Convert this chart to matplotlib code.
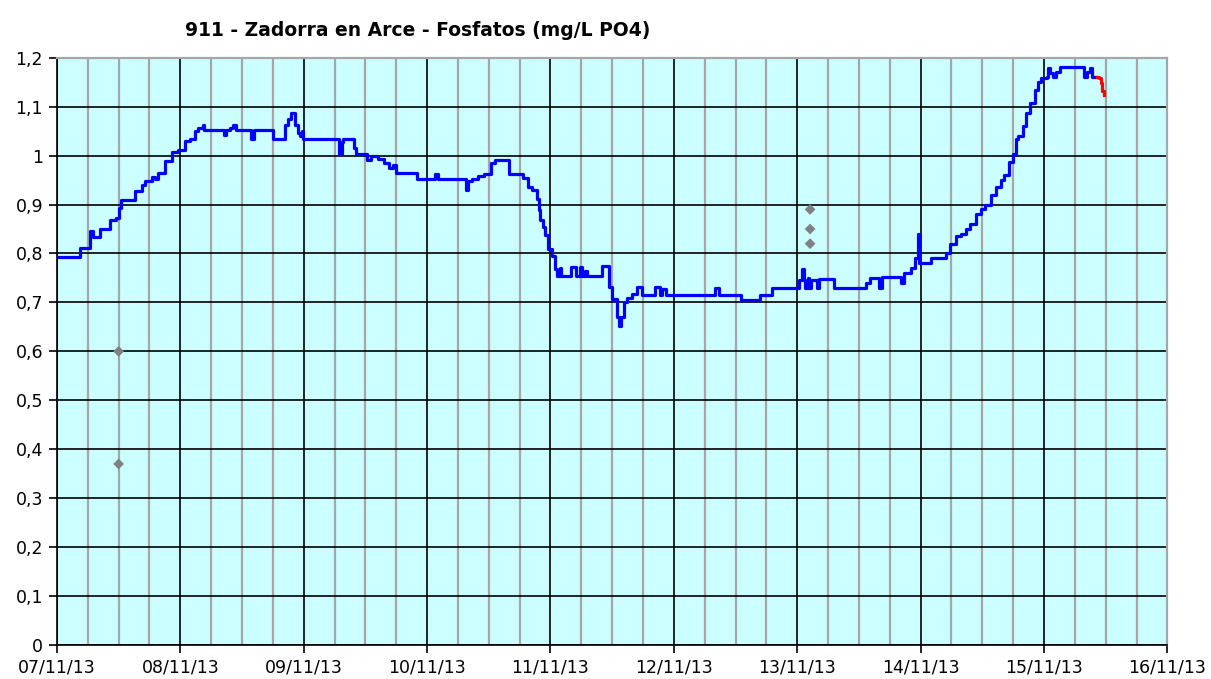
import matplotlib
matplotlib.use("Agg")
import matplotlib.pyplot as plt
import matplotlib.dates as mdates
import matplotlib.ticker as mticker
import pandas as pd

START = pd.Timestamp("2013-11-07")

# blue series: hours since 07/11/13 00:00, phosphate mg/L PO4
blue_hours = [
    0, 4.4, 6.4, 7.0, 8.4, 10.4, 11.4, 12.0, 12.5, 15.2, 16.6, 17.2, 18.4, 19.1,
    19.7, 21.0, 22.3, 23.6, 24.9, 25.8, 26.8, 27.4, 28.4, 28.7, 32.5, 32.9, 33.6,
    34.3, 34.9, 37.7, 38.4, 42.0, 44.3, 45.0, 45.5, 46.3, 46.8, 47.2, 47.6, 47.9,
    54.8, 55.4, 55.7, 57.7, 58.2, 60.3, 61.1, 62.4, 63.7, 64.5, 65.3, 66.0, 70.0,
    73.5, 74.2, 79.5, 80.0, 80.7, 82.0, 83.0, 84.5, 85.2, 88.0, 90.7, 91.7, 92.5,
    93.3, 93.7, 94.0, 94.6, 95.0, 95.6, 96.3, 96.9, 97.3, 97.8, 98.1, 99.9, 100.9,
    101.8, 102.1, 102.8, 103.1, 106.0, 107.3, 108.0, 109.0, 109.3, 109.8, 110.3,
    110.9, 111.9, 112.9, 113.8, 116.4, 117.4, 117.7, 118.4, 128.1, 128.8, 133.0,
    136.8, 139.1, 144.3, 144.9, 145.3, 145.6, 146.0, 146.3, 146.6, 147.9, 148.3,
    151.2, 157.4, 158.1, 160.0, 160.4, 164.1, 164.7, 166.1, 167.0, 167.4, 167.6,
    170.0, 172.9, 173.8, 174.8, 175.8, 176.8, 177.7, 178.7, 179.7, 180.6, 181.6,
    182.6, 183.6, 184.3, 185.2, 185.9, 186.6, 186.9, 187.9, 188.5, 189.2, 190.2,
    190.8, 191.5, 192.5, 192.8, 193.2, 193.8, 194.3, 195.1, 199.3, 199.7, 200.3,
    200.9, 201.3, 202.3,
]
blue_values = [
    0.793, 0.812, 0.846, 0.834, 0.850, 0.868, 0.872, 0.892, 0.909, 0.928, 0.940,
    0.949, 0.957, 0.952, 0.964, 0.988, 1.008, 1.012, 1.029, 1.034, 1.050, 1.056,
    1.063, 1.053, 1.043, 1.053, 1.056, 1.063, 1.052, 1.033, 1.052, 1.033, 1.063,
    1.075, 1.087, 1.063, 1.046, 1.040, 1.050, 1.033, 1.003, 1.027, 1.033, 1.016,
    1.003, 0.992, 1.000, 0.993, 0.985, 0.975, 0.980, 0.965, 0.953, 0.962, 0.953,
    0.930, 0.948, 0.953, 0.958, 0.963, 0.985, 0.991, 0.963, 0.955, 0.936, 0.930,
    0.912, 0.888, 0.868, 0.855, 0.838, 0.810, 0.794, 0.768, 0.755, 0.770, 0.755,
    0.772, 0.755, 0.772, 0.755, 0.765, 0.755, 0.774, 0.731, 0.707, 0.670, 0.652,
    0.670, 0.700, 0.710, 0.717, 0.731, 0.716, 0.732, 0.716, 0.728, 0.716, 0.729,
    0.716, 0.705, 0.716, 0.729, 0.746, 0.768, 0.746, 0.729, 0.749, 0.729, 0.746,
    0.729, 0.747, 0.729, 0.739, 0.750, 0.729, 0.751, 0.740, 0.760, 0.770, 0.790,
    0.840, 0.780, 0.790, 0.800, 0.820, 0.835, 0.840, 0.850, 0.860, 0.880, 0.890,
    0.900, 0.920, 0.935, 0.950, 0.960, 0.987, 1.003, 1.034, 1.040, 1.060, 1.087,
    1.107, 1.134, 1.151, 1.158, 1.161, 1.178, 1.168, 1.161, 1.170, 1.181, 1.181,
    1.161, 1.170, 1.178, 1.161, 1.161,
]

# last (red) stretch
red_hours = [202.3, 202.6, 203.0, 203.3, 203.7]
red_values = [1.161, 1.158, 1.148, 1.131, 1.124]

# isolated grey points
grey_hours = [12.0, 12.0, 146.5, 146.5, 146.5]
grey_values = [0.60, 0.37, 0.89, 0.85, 0.82]

y_ticks = [0, 0.1, 0.2, 0.3, 0.4, 0.5, 0.6, 0.7, 0.8, 0.9, 1.0, 1.1, 1.2]


def to_time(hours):
    return START + pd.to_timedelta(hours, unit="h")


fig = plt.figure(figsize=(12.11, 6.79), dpi=100)
ax = fig.add_axes([0.047, 0.050, 0.917, 0.865])
ax.set_facecolor("#CCFFFF")

ax.plot(to_time(blue_hours), blue_values, color="#0000FF", lw=2.3,
        drawstyle="steps-post", zorder=4)
ax.plot(to_time(red_hours), red_values, color="#FF0000", lw=2.3,
        drawstyle="steps-post", zorder=5)
ax.scatter(to_time(grey_hours), grey_values, marker="D", s=30,
           color="#808080", edgecolors="none", zorder=6)

ax.set_xlim(START, START + pd.Timedelta(days=9))
ax.set_ylim(0, 1.2)
ax.xaxis.set_major_locator(mdates.DayLocator())
ax.xaxis.set_major_formatter(mdates.DateFormatter("%d/%m/%y"))
ax.xaxis.set_minor_locator(mdates.HourLocator(byhour=[6, 12, 18]))
ax.set_yticks(y_ticks)
ax.yaxis.set_major_formatter(mticker.FuncFormatter(
    lambda v, _: f"{v:.1f}".rstrip("0").rstrip(".").replace(".", ",")))

ax.grid(True, which="minor", axis="x", color="#A6A6A6", lw=1.6, zorder=1)
ax.grid(True, which="major", axis="x", color="black", lw=1.2, zorder=2)
ax.grid(True, which="major", axis="y", color="black", lw=1.2, zorder=2)
ax.set_axisbelow(True)

ax.tick_params(axis="both", which="major", direction="out", length=6,
               width=1.2, labelsize=12.5, pad=4)
ax.tick_params(axis="x", which="minor", length=0)
for side in ("left", "bottom"):
    ax.spines[side].set_color("black")
    ax.spines[side].set_linewidth(1.2)
for side in ("top", "right"):
    ax.spines[side].set_color("#A6A6A6")
    ax.spines[side].set_linewidth(1.6)

fig.text(0.345, 0.955, "911 - Zadorra en Arce - Fosfatos (mg/L PO4)",
         ha="center", va="center", fontsize=13.5, fontweight="bold")

fig.savefig("out.png", dpi=100)
